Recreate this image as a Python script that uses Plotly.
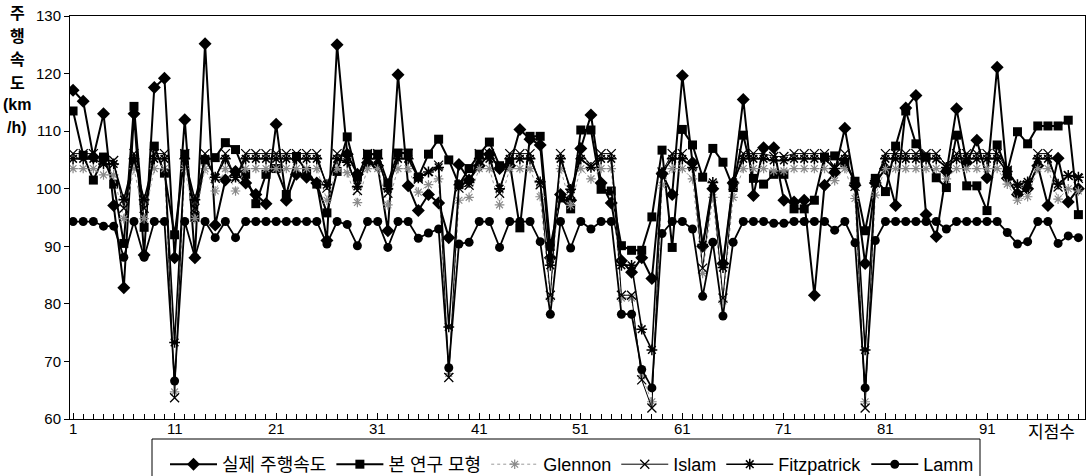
import plotly.graph_objects as go

points = list(range(1, 101))

actual = [117.1,115.2,105.5,113.0,97.1,82.8,113.0,88.5,117.6,119.2,
 88.0,112.0,88.0,125.2,93.7,101.5,103.0,101.0,99.0,97.4,
 111.2,98.0,102.5,102.0,101.0,91.0,125.0,106.0,102.5,104.5,
 104.0,92.7,119.8,100.5,96.2,99.0,97.5,91.5,104.2,101.5,
 104.0,106.0,103.5,104.0,110.3,108.6,107.6,88.0,99.0,98.0,
 107.0,112.8,101.0,97.5,87.5,85.5,88.0,84.4,102.6,99.0,
 119.6,104.5,90.0,100.0,87.0,101.0,115.5,98.8,107.1,107.1,
 98.0,97.7,98.0,81.5,100.6,102.8,110.5,100.6,87.0,101.0,
 103.5,97.1,114.0,116.2,95.5,91.7,103.0,113.9,104.5,108.4,
 101.9,121.1,101.8,99.0,100.0,104.0,97.1,105.3,97.7,100.0]

model = [113.5,105.8,101.5,105.5,100.8,90.5,114.3,93.3,107.4,102.7,
 92.0,106.0,95.0,105.0,105.4,108.0,106.8,102.5,97.4,102.5,
 103.5,99.0,105.6,103.0,100.8,95.8,103.0,109.0,102.0,106.0,
 106.0,101.0,106.2,106.2,102.0,106.0,108.6,105.0,100.7,103.5,
 106.0,108.1,104.0,104.5,93.2,109.1,109.1,90.0,98.4,96.5,
 110.2,110.2,99.9,99.6,90.1,89.3,89.3,95.1,106.7,89.8,
 110.3,107.6,102.0,107.0,104.6,100.2,109.3,101.8,100.8,102.5,
 102.5,96.5,96.5,98.0,105.5,105.7,104.5,101.3,92.7,101.8,
 99.5,107.4,113.5,107.8,105.5,101.9,100.2,109.3,100.5,100.5,
 96.2,107.6,103.0,109.9,107.8,110.9,110.9,110.9,111.9,95.5]

glennon = [103.5,103.5,103.5,102.4,102.4,94.8,103.5,94.8,103.5,103.5,
 64.7,103.5,94.8,103.5,99.6,103.5,99.6,103.5,103.5,103.5,
 103.5,103.5,103.5,103.5,103.5,98.0,103.5,102.8,97.6,103.5,
 103.5,97.2,103.5,103.5,99.4,100.7,101.7,67.9,98.0,98.5,
 103.5,103.5,97.2,103.5,103.5,103.5,98.6,81.0,103.5,97.1,
 103.5,101.7,103.5,103.5,81.0,81.0,67.5,63.0,100.6,103.5,
 103.5,101.7,85.3,98.5,80.5,98.5,103.5,103.5,103.5,103.1,
 103.1,103.5,103.5,103.5,103.5,101.4,103.5,98.3,63.0,98.9,
 103.5,103.5,103.5,103.5,103.5,103.5,101.7,103.5,103.5,103.5,
 103.5,103.5,100.8,98.0,98.6,103.5,103.5,98.2,100.0,99.6]

islam = [106.1,106.1,106.1,104.9,104.9,96.6,106.1,96.6,106.1,106.1,
 63.7,106.1,96.6,106.1,101.8,106.1,101.8,106.1,106.1,106.1,
 106.1,106.1,106.1,106.1,106.1,100.1,106.1,105.3,99.7,106.1,
 106.1,99.2,106.1,106.1,101.7,103.0,104.1,67.2,100.1,100.6,
 106.1,106.1,99.2,106.1,106.1,106.1,100.7,81.5,106.1,99.1,
 106.1,104.1,106.1,106.1,81.5,81.5,66.8,61.9,102.9,106.1,
 106.1,104.1,86.2,100.6,81.0,100.6,106.1,106.1,106.1,105.6,
 105.6,106.1,106.1,106.1,106.1,103.8,106.1,100.4,61.9,101.0,
 106.1,106.1,106.1,106.1,106.1,106.1,104.1,106.1,106.1,106.1,
 106.1,106.1,103.2,100.1,100.7,106.1,106.1,100.3,102.3,101.8]

fitzpatrick = [105.2,105.2,105.2,104.3,104.3,98.1,105.2,98.1,105.2,105.2,
 73.3,105.2,98.1,105.2,102.0,105.2,102.0,105.2,105.2,105.2,
 105.2,105.2,105.2,105.2,105.2,100.7,105.2,104.6,100.4,105.2,
 105.2,100.0,105.2,105.2,101.9,102.9,103.7,76.0,100.7,101.1,
 105.2,105.2,100.0,105.2,105.2,105.2,101.2,86.7,105.2,99.9,
 105.2,103.7,105.2,105.2,86.7,86.7,75.6,72.0,102.8,105.2,
 105.2,103.7,90.3,101.1,86.3,101.1,105.2,105.2,105.2,104.9,
 104.9,105.2,105.2,105.2,105.2,103.5,105.2,100.9,72.0,101.4,
 105.2,105.2,105.2,105.2,105.2,105.2,103.7,105.2,105.2,105.2,
 105.2,105.2,103.0,100.7,101.2,105.2,105.2,100.8,102.3,102.0]

lamm = [94.3,94.3,94.3,93.5,93.5,88.1,94.3,88.1,94.3,94.3,
 66.6,94.3,88.1,94.3,91.5,94.3,91.5,94.3,94.3,94.3,
 94.3,94.3,94.3,94.3,94.3,90.4,94.3,93.8,90.1,94.3,
 94.3,89.8,94.3,94.3,91.4,92.3,93.0,68.9,90.4,90.7,
 94.3,94.3,89.8,94.3,94.3,94.3,90.8,78.2,94.3,89.7,
 94.3,93.0,94.3,94.3,78.2,78.2,68.6,65.4,92.2,94.3,
 94.3,93.0,81.3,90.7,77.9,90.7,94.3,94.3,94.3,94.0,
 94.0,94.3,94.3,94.3,94.3,92.8,94.3,90.6,65.4,91.0,
 94.3,94.3,94.3,94.3,94.3,94.3,93.0,94.3,94.3,94.3,
 94.3,94.3,92.4,90.4,90.8,94.3,94.3,90.5,91.8,91.5]

x_tick_vals = [1, 11, 21, 31, 41, 51, 61, 71, 81, 91]
y_tick_vals = [60, 70, 80, 90, 100, 110, 120, 130]
names = ["실제 주행속도", "본 연구 모형", "Glennon", "Islam", "Fitzpatrick", "Lamm"]
y_title_lines = ["주", "행", "속", "도", "(km", "/h)"]
x_title = "지점수"

FONT = "Liberation Sans, Arial, Noto Sans CJK KR, sans-serif"

# plot-area geometry in pixels (for placing text in paper coordinates)
L, R, T, B = 70, 1085, 16, 419
PW, PH = R - L, B - T

def px_x(px):
    return (px - L) / PW

def px_y(py):
    return (B - py) / PH

fig = go.Figure()
fig.add_trace(go.Scatter(x=points, y=actual, name=names[0], mode="lines+markers",
    line=dict(color="black", width=2),
    marker=dict(symbol="diamond", size=10, color="black")))
fig.add_trace(go.Scatter(x=points, y=model, name=names[1], mode="lines+markers",
    line=dict(color="black", width=2),
    marker=dict(symbol="square", size=9, color="black")))
fig.add_trace(go.Scatter(x=points, y=glennon, name=names[2], mode="lines+markers",
    line=dict(color="#9a9a9a", width=1, dash="dot"),
    marker=dict(symbol="asterisk-open", size=8, color="#8a8a8a", line=dict(width=1.2, color="#8a8a8a"))))
fig.add_trace(go.Scatter(x=points, y=islam, name=names[3], mode="lines+markers",
    line=dict(color="black", width=1),
    marker=dict(symbol="x-thin-open", size=9, color="black", line=dict(width=1.3, color="black"))))
fig.add_trace(go.Scatter(x=points, y=fitzpatrick, name=names[4], mode="lines+markers",
    line=dict(color="black", width=1.6),
    marker=dict(symbol="asterisk-open", size=9, color="black", line=dict(width=1.5, color="black"))))
fig.add_trace(go.Scatter(x=points, y=lamm, name=names[5], mode="lines+markers",
    line=dict(color="black", width=1.8),
    marker=dict(symbol="circle", size=9, color="black")))

annotations = []
y_title_pos = [13, 36, 59, 83, 105, 128]
for txt, yp in zip(y_title_lines, y_title_pos):
    annotations.append(dict(text="<b>%s</b>" % txt, x=px_x(17), y=px_y(yp),
        xref="paper", yref="paper", showarrow=False, xanchor="center", yanchor="middle",
        font=dict(family=FONT, size=16, color="black")))
for v in x_tick_vals:
    annotations.append(dict(text=str(v), x=v, y=px_y(428), xref="x", yref="paper",
        showarrow=False, xanchor="center", yanchor="middle",
        font=dict(family=FONT, size=15, color="black")))
annotations.append(dict(text=x_title, x=px_x(1051), y=px_y(432),
    xref="paper", yref="paper", showarrow=False, xanchor="center", yanchor="middle",
    font=dict(family=FONT, size=17, color="black")))

# legend frame (its bottom edge runs past the picture, as in the reference)
shapes = [dict(type="rect", xref="paper", yref="paper",
    x0=px_x(152), x1=px_x(980), y0=px_y(439), y1=px_y(490),
    line=dict(color="black", width=1), fillcolor="rgba(0,0,0,0)", layer="above")]

fig.update_layout(
    width=1090, height=476,
    margin=dict(l=L, r=1090 - R, t=T, b=476 - B, autoexpand=False),
    paper_bgcolor="white", plot_bgcolor="white",
    font=dict(family=FONT, size=15, color="black"),
    showlegend=True,
    legend=dict(orientation="h", x=px_x(165), y=px_y(446),
        xanchor="left", yanchor="top", borderwidth=0,
        font=dict(family=FONT, size=18, color="black"), bgcolor="rgba(0,0,0,0)",
        itemwidth=47, tracegroupgap=0),
    annotations=annotations,
    shapes=shapes,
)
fig.update_xaxes(range=[0.7, 100.65], tickmode="array", tickvals=x_tick_vals,
    showticklabels=False, ticks="inside", ticklen=6, tickcolor="black",
    showline=True, linecolor="black", linewidth=1, mirror=True, showgrid=False, zeroline=False,
    minor=dict(tickmode="linear", tick0=1, dtick=1, ticks="inside", ticklen=5, tickcolor="black"))
fig.update_yaxes(range=[60, 130], tickmode="array", tickvals=y_tick_vals,
    ticks="outside", ticklen=5, tickcolor="black",
    showline=True, linecolor="black", linewidth=1, mirror=True, showgrid=False, zeroline=False,
    tickfont=dict(size=15))

fig.write_html("out.html", config={"displayModeBar": False},
    post_script="document.body.style.margin='0';document.body.style.overflow='hidden';")
